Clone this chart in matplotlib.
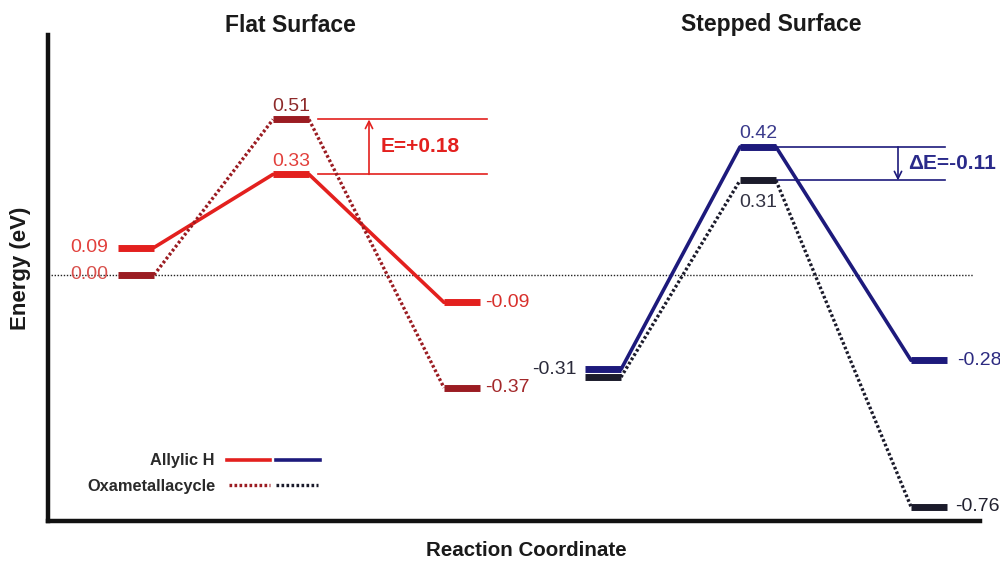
import matplotlib
matplotlib.use("Agg")
import matplotlib.pyplot as plt
from matplotlib.lines import Line2D
from matplotlib.transforms import ScaledTranslation

plt.rcParams['font.family'] = ['Liberation Sans', 'DejaVu Sans']

# ---- data (eV) ----
states = ["Initial", "TS", "Final"]
flat_allylic = [0.09, 0.33, -0.09]
flat_oxa = [0.00, 0.51, -0.37]
step_allylic = [-0.31, 0.42, -0.28]
step_oxa = [-0.31, 0.31, -0.76]
flat_label = "Flat Surface"
step_label = "Stepped Surface"
flat_delta = "E=+0.18"
step_delta = "\u0394E=-0.11"
series_names = ["Allylic H", "Oxametallacycle"]

# ---- layout ----
flat_x = [136, 291, 462]      # centres of the level bars, flat surface
step_x = [603, 758, 929]      # centres of the level bars, stepped surface
half = 18                     # half width of a level bar

c_red = "#e3201e"
c_dred = "#9b1c22"
c_navy = "#1d1a7c"
c_black = "#1b1b2b"

fig = plt.figure(figsize=(10, 5.63), dpi=100)
ax = fig.add_axes([0.048, 0.0746, 0.932, 0.8632])
ax.set_xlim(48, 980)
ax.set_ylim(-0.807, 0.787)

for s in ["top", "right"]:
    ax.spines[s].set_visible(False)
for s in ["left", "bottom"]:
    ax.spines[s].set_linewidth(3.2)
    ax.spines[s].set_color("#111111")
ax.set_xticks([])
ax.set_yticks([])

# zero reference
ax.plot([48, 973], [0, 0], color="#222222", lw=1.0, ls=(0, (1, 1.2)), zorder=1)

dot_style = dict(ls=(0, (0.8, 0.7)), dash_capstyle="butt", lw=2.4)


def draw_path(xs, es, color, dotted=False, shift=None):
    """Level bars joined by connectors; shift (points, per level) nudges
    coincident levels apart on screen without changing their energy."""
    shift = shift or [0] * len(xs)
    trs = [ax.transData + ScaledTranslation(0, s / 72.0, fig.dpi_scale_trans)
           for s in shift]
    for x, e, tr in zip(xs, es, trs):
        ax.plot([x - half, x + half], [e, e], color=color, lw=5.0,
                solid_capstyle="butt", zorder=4, transform=tr)
    for i in range(len(xs) - 1):
        p0 = trs[i].transform((xs[i] + half, es[i]))
        p1 = trs[i + 1].transform((xs[i + 1] - half, es[i + 1]))
        inv = ax.transData.inverted()
        (x0, y0), (x1, y1) = inv.transform(p0), inv.transform(p1)
        if dotted:
            ax.plot([x0, x1], [y0, y1], color=color, zorder=3, **dot_style)
        else:
            ax.plot([x0, x1], [y0, y1], color=color, lw=2.6, zorder=3,
                    solid_capstyle="round")


draw_path(flat_x, flat_allylic, c_red)
draw_path(flat_x, flat_oxa, c_dred, dotted=True)
draw_path(step_x, step_allylic, c_navy)
draw_path(step_x, step_oxa, c_black, dotted=True, shift=[-5.5, 0, 0])

fs = 14


def value_label(x, e, color, where, gap):
    """Write the energy of a level next to its bar; gap in points."""
    text = f"{e:.2f}"
    if where == "left":
        ax.annotate(text, (x - half, e), xytext=(-gap, 0), textcoords="offset points",
                    ha="right", va="center", color=color, fontsize=fs)
    elif where == "right":
        ax.annotate(text, (x + half, e), xytext=(gap, 0), textcoords="offset points",
                    ha="left", va="center", color=color, fontsize=fs)
    elif where == "above":
        ax.annotate(text, (x, e), xytext=(0, gap), textcoords="offset points",
                    ha="center", va="center", color=color, fontsize=fs)
    else:
        ax.annotate(text, (x, e), xytext=(0, -gap), textcoords="offset points",
                    ha="center", va="center", color=color, fontsize=fs)


# flat surface
value_label(flat_x[0], flat_allylic[0], "#e2403c", "left", 7)
value_label(flat_x[0], flat_oxa[0], "#d8504c", "left", 7)
value_label(flat_x[1], flat_oxa[1], "#8e2a2a", "above", 9.5)
value_label(flat_x[1], flat_allylic[1], "#e2403c", "above", 9.5)
value_label(flat_x[2], flat_allylic[2], "#d8302c", "right", 4)
value_label(flat_x[2], flat_oxa[2], "#a3282a", "right", 4)

# stepped surface
value_label(step_x[0], step_allylic[0], "#2a2a3a", "left", 6)
value_label(step_x[1], step_allylic[1], "#3a3a8c", "above", 9.5)
value_label(step_x[1], step_oxa[1], "#333344", "below", 16)
value_label(step_x[2], step_allylic[2], "#2c2a80", "right", 7)
value_label(step_x[2], step_oxa[2], "#222230", "right", 6)

# energy-difference brackets
ax.plot([318, 487], [flat_oxa[1]] * 2, color=c_red, lw=1.2, zorder=2)
ax.plot([318, 487], [flat_allylic[1]] * 2, color=c_red, lw=1.2, zorder=2)
ax.annotate("", xy=(369, flat_oxa[1]), xytext=(369, flat_allylic[1]),
            arrowprops=dict(arrowstyle="->", color=c_red, lw=1.2,
                            shrinkA=0, shrinkB=0, mutation_scale=13))
ax.text(381, (flat_oxa[1] + flat_allylic[1]) / 2, flat_delta, color=c_red,
        fontsize=15, fontweight="bold", ha="left", va="center")

ax.plot([step_x[1] + half, 945], [step_allylic[1]] * 2, color=c_navy, lw=1.2, zorder=2)
ax.plot([step_x[1] + half, 945], [step_oxa[1]] * 2, color=c_navy, lw=1.2, zorder=2)
ax.annotate("", xy=(898, step_oxa[1]), xytext=(898, step_allylic[1]),
            arrowprops=dict(arrowstyle="->", color=c_navy, lw=1.2,
                            shrinkA=0, shrinkB=0, mutation_scale=13))
ax.text(908, (step_allylic[1] + step_oxa[1]) / 2, step_delta, color="#2a2a8a",
        fontsize=15, fontweight="bold", ha="left", va="center")


def fy(py):
    return 1 - py / 563


# panel titles and axis labels
fig.text(0.290, fy(25), flat_label, fontsize=16.5, fontweight="bold",
         ha="center", va="center", color="#1a1a1a")
fig.text(0.771, fy(25), step_label, fontsize=16.5, fontweight="bold",
         ha="center", va="center", color="#1a1a1a")
fig.text(0.021, fy(268), "Energy (eV)", fontsize=16, fontweight="bold",
         rotation=90, ha="center", va="center", color="#1a1a1a")
fig.text(0.526, fy(551), "Reaction Coordinate", fontsize=14.8, fontweight="bold",
         ha="center", va="center", color="#1a1a1a")

# legend
fig.text(0.215, fy(461), series_names[0], fontsize=11.8, fontweight="bold",
         ha="right", va="center", color="#2a2a2a")
fig.text(0.215, fy(486), series_names[1], fontsize=11.8, fontweight="bold",
         ha="right", va="center", color="#2a2a2a")
fig.add_artist(Line2D([0.227, 0.270], [fy(460)] * 2, color=c_red, lw=2.6,
                      transform=fig.transFigure))
fig.add_artist(Line2D([0.276, 0.320], [fy(460)] * 2, color=c_navy, lw=2.6,
                      transform=fig.transFigure))
fig.add_artist(Line2D([0.229, 0.270], [fy(485)] * 2, color=c_dred,
                      transform=fig.transFigure, **dot_style))
fig.add_artist(Line2D([0.276, 0.318], [fy(485)] * 2, color=c_black,
                      transform=fig.transFigure, **dot_style))

fig.savefig("out.png", dpi=100)
